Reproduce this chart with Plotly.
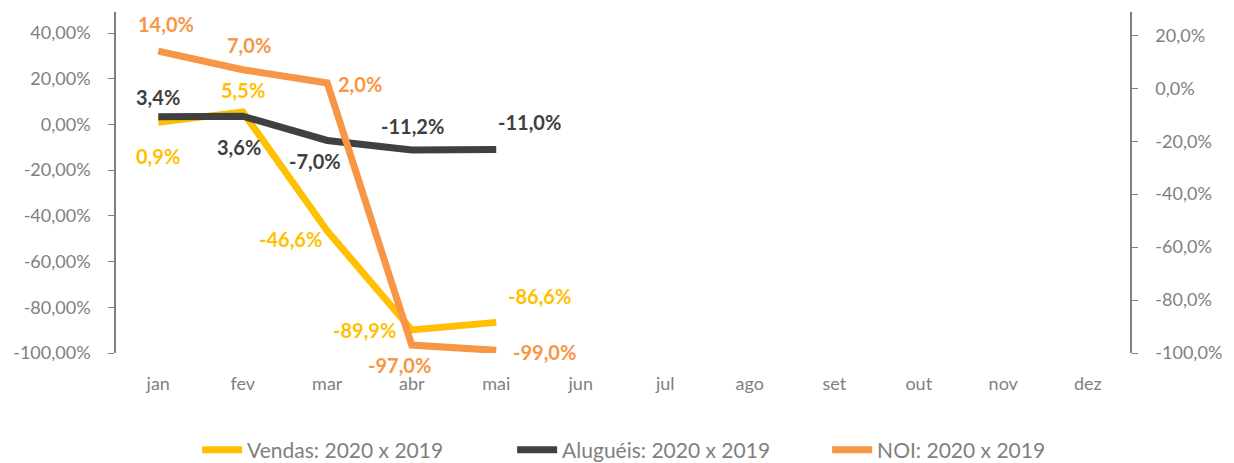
import plotly.graph_objects as go

months = ["jan", "fev", "mar", "abr", "mai", "jun", "jul", "ago", "set", "out", "nov", "dez"]
vendas = [0.9, 5.5, -46.6, -89.9, -86.6]
alugueis = [3.4, 3.6, -7.0, -11.2, -11.0]
noi = [14.0, 7.0, 2.0, -97.0, -99.0]

left_ticks = [-100, -80, -60, -40, -20, 0, 20, 40]
left_ticktext = ["-100,00%", "-80,00%", "-60,00%", "-40,00%", "-20,00%", "0,00%", "20,00%", "40,00%"]
right_ticks = [-100, -80, -60, -40, -20, 0, 20]
right_ticktext = ["-100,0%", "-80,0%", "-60,0%", "-40,0%", "-20,0%", "0,0%", "20,0%"]

# label offsets (px) for each point: (xshift, yshift)
vendas_off = [(0, -34), (0, 22), (-37, -8), (-47, 0), (43, 26)]
alug_off = [(0, 20), (-4, -31), (-12, -21), (1, 24), (33, 28)]
noi_off = [(8, 27), (6, 25), (33, -1), (-12, -20), (48, -2)]

C_V = "#FFC000"
C_A = "#404040"
C_N = "#F79646"
GREY = "#7F7F7F"
FONT = "Lato"

fig = go.Figure()
fig.add_trace(go.Scatter(x=months[:len(vendas)], y=vendas, mode="lines", name="Vendas: 2020 x 2019",
                         line=dict(color=C_V, width=7)))
fig.add_trace(go.Scatter(x=months[:len(alugueis)], y=alugueis, mode="lines", name="Aluguéis: 2020 x 2019",
                         line=dict(color=C_A, width=7)))
fig.add_trace(go.Scatter(x=months[:len(noi)], y=noi, mode="lines", name="NOI: 2020 x 2019",
                         line=dict(color=C_N, width=7), yaxis="y2"))
# invisible trace to keep all 12 categories
fig.add_trace(go.Scatter(x=months, y=[None] * len(months), mode="lines", showlegend=False, hoverinfo="skip"))

def fmt(v):
    return f"{v:.1f}".replace(".", ",") + "%"

ann = []
for vals, offs, col, yref in [(vendas, vendas_off, C_V, "y"), (alugueis, alug_off, C_A, "y"), (noi, noi_off, C_N, "y2")]:
    for i, v in enumerate(vals):
        ann.append(dict(x=months[i], y=v, xref="x", yref=yref, text=f"<b>{fmt(v)}</b>", showarrow=False,
                        xshift=offs[i][0], yshift=offs[i][1],
                        font=dict(family=FONT, size=20, color=col)))

fig.update_layout(
    width=1234, height=463,
    margin=dict(l=116, r=96, t=12, b=110),
    paper_bgcolor="white", plot_bgcolor="white",
    font=dict(family=FONT, size=16, color=GREY),
    annotations=ann,
    showlegend=True,
    legend=dict(orientation="h", x=0.08, xanchor="left", y=0.028, yref="container", yanchor="middle",
                font=dict(family=FONT, size=21, color=GREY), entrywidth=260, entrywidthmode="pixels",
                itemwidth=40, traceorder="normal"),
    xaxis=dict(type="category", categoryorder="array", categoryarray=months, showgrid=False,
               showline=False, ticks="", ticklabelstandoff=18, tickfont=dict(size=18, color=GREY),
               range=[-0.5, 11.5], zeroline=False),
    yaxis=dict(range=[-100, 49.2], tickvals=left_ticks, ticktext=left_ticktext,
               showgrid=False, zeroline=False, showline=True, linecolor="#808080",
               linewidth=1.5, ticks="outside", ticklen=6, tickcolor="#808080", ticklabelstandoff=14,
               tickfont=dict(size=18, color=GREY)),
    yaxis2=dict(range=[-100, 28.8], tickvals=right_ticks, ticktext=right_ticktext,
                overlaying="y", side="right", showgrid=False, zeroline=False, showline=True,
                linecolor="#808080", linewidth=1.5, ticks="outside", ticklen=6, tickcolor="#808080",
                ticklabelstandoff=14, tickfont=dict(size=18, color=GREY)),
)

fig.write_html("out.html")
